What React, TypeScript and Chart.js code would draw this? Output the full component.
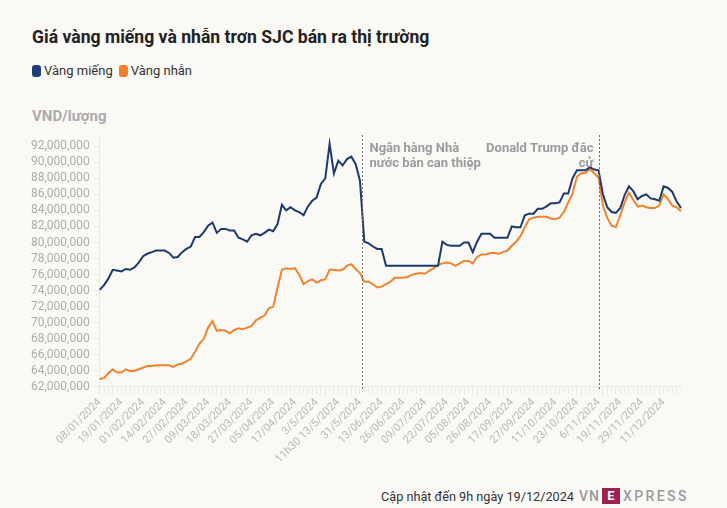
import React, { useEffect, useRef } from 'react';
import { Chart, registerables } from 'chart.js';

Chart.register(...registerables);

const FONT = 'Roboto, "Noto Sans", sans-serif';
const BLUE = '#1c3a6e';
const ORANGE = '#f2842e';

// Tick labels shown on the x axis (one every `pointsPerTick` observations)
const tickLabels = [
  '08/01/2024', '19/01/2024', '01/02/2024', '14/02/2024', '27/02/2024', '09/03/2024',
  '18/03/2024', '27/03/2024', '05/04/2024', '17/04/2024', '3/5/2024', '11h30 13/5/2024',
  '31/5/2024', '13/06/2024', '26/06/2024', '09/07/2024', '22/07/2024', '05/08/2024',
  '26/08/2024', '17/09/2024', '27/09/2024', '11/10/2024', '23/10/2024', '6/11/2024',
  '19/11/2024', '29/11/2024', '11/12/2024',
];
const pointsPerTick = 5;

// Y axis ticks, million VND
const yTicks = [62, 64, 66, 68, 70, 72, 74, 76, 78, 80, 82, 84, 86, 88, 90, 92];

// Prices, million VND per tael
const vangMieng = [
  74.1, 74.7, 75.5, 76.6, 76.5, 76.4, 76.7, 76.6, 76.9, 77.5,
  78.3, 78.6, 78.8, 79.0, 79.0, 79.0, 78.7, 78.1, 78.2, 78.8,
  79.2, 79.5, 80.7, 80.7, 81.3, 82.1, 82.5, 81.2, 81.7, 81.7,
  81.5, 81.5, 80.6, 80.4, 80.1, 80.9, 81.1, 80.9, 81.2, 81.6,
  81.4, 82.3, 84.7, 84.0, 84.4, 84.0, 83.8, 83.4, 84.5, 85.2,
  85.6, 87.3, 88.0, 92.3, 88.6, 90.2, 89.6, 90.4, 90.7, 89.8,
  87.7, 80.1, 79.9, 79.5, 79.2, 79.2, 77.1, 77.1, 77.1, 77.1,
  77.1, 77.1, 77.1, 77.1, 77.1, 77.1, 77.1, 77.1, 77.1, 80.1,
  79.7, 79.6, 79.6, 79.6, 80.0, 80.0, 78.8, 80.1, 81.1, 81.1,
  81.1, 80.6, 80.6, 80.6, 80.6, 82.0, 81.9, 81.9, 83.4, 83.6,
  83.6, 84.2, 84.2, 84.5, 84.9, 84.9, 85.0, 86.1, 86.1, 88.0,
  89.0, 89.0, 89.0, 89.4, 89.1, 89.0, 86.0, 84.4, 83.8, 83.7,
  84.3, 85.9, 87.0, 86.4, 85.4, 85.8, 86.0, 85.5, 85.4, 85.2,
  87.0, 86.8, 86.3, 85.1, 84.3,
];
const vangNhan = [
  63.0, 63.1, 63.7, 64.2, 63.8, 63.8, 64.2, 64.0, 64.0, 64.2,
  64.4, 64.6, 64.6, 64.7, 64.7, 64.7, 64.7, 64.5, 64.8, 64.9,
  65.2, 65.5, 66.4, 67.4, 68.0, 69.4, 70.2, 69.0, 69.1, 69.0,
  68.7, 69.1, 69.3, 69.2, 69.4, 69.6, 70.3, 70.6, 70.9, 71.8,
  72.0, 74.4, 76.6, 76.8, 76.7, 76.8, 76.0, 74.8, 75.2, 75.4,
  75.0, 75.3, 75.4, 76.6, 76.6, 76.5, 76.6, 77.1, 77.3, 76.7,
  76.2, 75.1, 75.1, 74.8, 74.4, 74.5, 74.8, 75.1, 75.6, 75.6,
  75.6, 75.7, 76.0, 76.1, 76.2, 76.1, 76.5, 76.8, 77.2, 77.4,
  77.5, 77.4, 77.1, 77.4, 77.7, 77.7, 77.4, 78.2, 78.5, 78.5,
  78.7, 78.7, 78.6, 78.8, 79.0, 79.6, 80.1, 80.8, 81.9, 82.9,
  83.1, 83.2, 83.2, 83.2, 83.0, 82.9, 83.1, 83.8, 85.0, 86.1,
  88.2, 88.6, 88.7, 89.2, 88.6, 88.1, 84.6, 83.1, 82.1, 81.9,
  83.4, 85.0, 86.2, 85.3, 84.5, 84.6, 84.4, 84.3, 84.3, 84.6,
  86.0, 85.4, 84.6, 84.4, 83.9,
];

// Event markers (index position on the x axis) and their notes
const eventIndex = [60.5, 115];
const eventText = [
  ['Ngân hàng Nhà', 'nước bán can thiệp'],
  ['Donald Trump đắc', 'cử'],
];
const eventAlign: CanvasTextAlign[] = ['left', 'right'];

const labels = vangMieng.map((_, i) =>
  i % pointsPerTick === 0 ? tickLabels[i / pointsPerTick] ?? '' : ''
);

const eventPlugin = {
  id: 'events',
  afterDatasetsDraw(chart: any) {
    const { ctx, chartArea } = chart;
    const x = chart.scales.x;
    eventIndex.forEach((idx, k) => {
      const px = Math.round(x.getPixelForValue(idx)) + 0.5;
      ctx.save();
      ctx.strokeStyle = '#6f6f6f';
      ctx.lineWidth = 1;
      ctx.setLineDash([2, 2]);
      ctx.beginPath();
      ctx.moveTo(px, chartArea.top);
      ctx.lineTo(px, chartArea.bottom + 2);
      ctx.stroke();
      ctx.setLineDash([]);
      ctx.font = `bold 13px ${FONT}`;
      ctx.fillStyle = '#9b9b9b';
      ctx.textAlign = eventAlign[k];
      ctx.textBaseline = 'middle';
      const tx = eventAlign[k] === 'left' ? px + 7 : px - 6;
      eventText[k].forEach((line, j) => {
        ctx.fillText(line, tx, chartArea.top + 14 + j * 15);
      });
      ctx.restore();
    });
  },
};

export default function App() {
  const ref = useRef<HTMLCanvasElement>(null);
  useEffect(() => {
    if (!ref.current) return;
    const chart = new Chart(ref.current, {
      type: 'line',
      data: {
        labels,
        datasets: [
          {
            label: 'Vàng miếng',
            data: vangMieng.map((v) => Math.round(v * 1e6)),
            borderColor: BLUE,
            borderWidth: 2,
            pointRadius: 0,
            tension: 0,
          },
          {
            label: 'Vàng nhẫn',
            data: vangNhan.map((v) => Math.round(v * 1e6)),
            borderColor: ORANGE,
            borderWidth: 2,
            pointRadius: 0,
            tension: 0,
          },
        ],
      },
      options: {
        animation: false,
        responsive: false,
        maintainAspectRatio: false,
        layout: { padding: { left: 26, right: 46, top: 15, bottom: 0 } },
        plugins: { legend: { display: false }, tooltip: { enabled: false } },
        scales: {
          x: {
            type: 'category',
            offset: false,
            grid: { drawOnChartArea: false, drawTicks: true, tickLength: 7, color: '#e8e8e8' },
            border: { color: '#e8e8e8' },
            ticks: {
              autoSkip: false,
              maxRotation: 45,
              minRotation: 45,
              padding: 2,
              color: '#b8b8b8',
              font: { family: FONT, size: 11 },
              callback: (_v: any, i: number) => labels[i],
            },
          },
          y: {
            min: 62e6,
            max: 93.4e6,
            afterBuildTicks: (axis: any) => {
              axis.ticks = yTicks.map((v) => ({ value: v * 1e6 }));
            },
            grid: { drawOnChartArea: false, tickLength: 5, color: '#e8e8e8' },
            border: { color: '#e8e8e8' },
            ticks: {
              autoSkip: false,
              padding: 5,
              color: '#acacac',
              font: { family: FONT, size: 12 },
              callback: (v: any) => Math.round(Number(v)).toLocaleString('en-US'),
            },
          },
        },
      },
      plugins: [eventPlugin],
    });
    return () => chart.destroy();
  }, []);

  const box = (c: string) => ({
    display: 'inline-block',
    width: 9,
    height: 12,
    borderRadius: 3,
    background: c,
    marginRight: 3,
    verticalAlign: -2,
  });

  return (
    <div
      style={{
        position: 'absolute',
        left: 0,
        top: 0,
        width: 727,
        height: 508,
        background: '#faf9f6',
        fontFamily: FONT,
        overflow: 'hidden',
      }}
    >
      <div style={{ position: 'absolute', left: 32, top: 27, fontSize: 17.6, fontWeight: 700, color: '#222' }}>
        Giá vàng miếng và nhẫn trơn SJC bán ra thị trường
      </div>
      <div style={{ position: 'absolute', left: 32, top: 63, fontSize: 13, color: '#333', whiteSpace: 'nowrap' }}>
        <span style={box('#1c3f7c')} />
        Vàng miếng
        <span style={{ ...box('#f47f24'), marginLeft: 6 }} />
        Vàng nhẫn
      </div>
      <div style={{ position: 'absolute', left: 32, top: 107, fontSize: 15, fontWeight: 700, color: '#ababab' }}>
        VND/lượng
      </div>
      <canvas ref={ref} width={727} height={348} style={{ position: 'absolute', left: 0, top: 120 }} />
      <div
        style={{
          position: 'absolute',
          left: 381,
          top: 488,
          fontSize: 13,
          color: '#333',
          whiteSpace: 'nowrap',
          display: 'flex',
          alignItems: 'center',
        }}
      >
        <span style={{ fontSize: 12.7 }}>Cập nhật đến 9h ngày 19/12/2024</span>
        <span style={{ marginLeft: 5, color: '#9a9a9a', fontWeight: 500, fontSize: 14, letterSpacing: 1 }}>VN</span>
        <span
          style={{
            display: 'inline-block',
            width: 18,
            height: 16,
            background: '#9f224e',
            color: '#fff',
            fontWeight: 700,
            fontSize: 13,
            lineHeight: '16px',
            textAlign: 'center',
            margin: '0 3px 0 2px',
          }}
        >
          E
        </span>
        <span style={{ color: '#9a9a9a', fontWeight: 500, fontSize: 14, letterSpacing: 2.4 }}>XPRESS</span>
      </div>
    </div>
  );
}
